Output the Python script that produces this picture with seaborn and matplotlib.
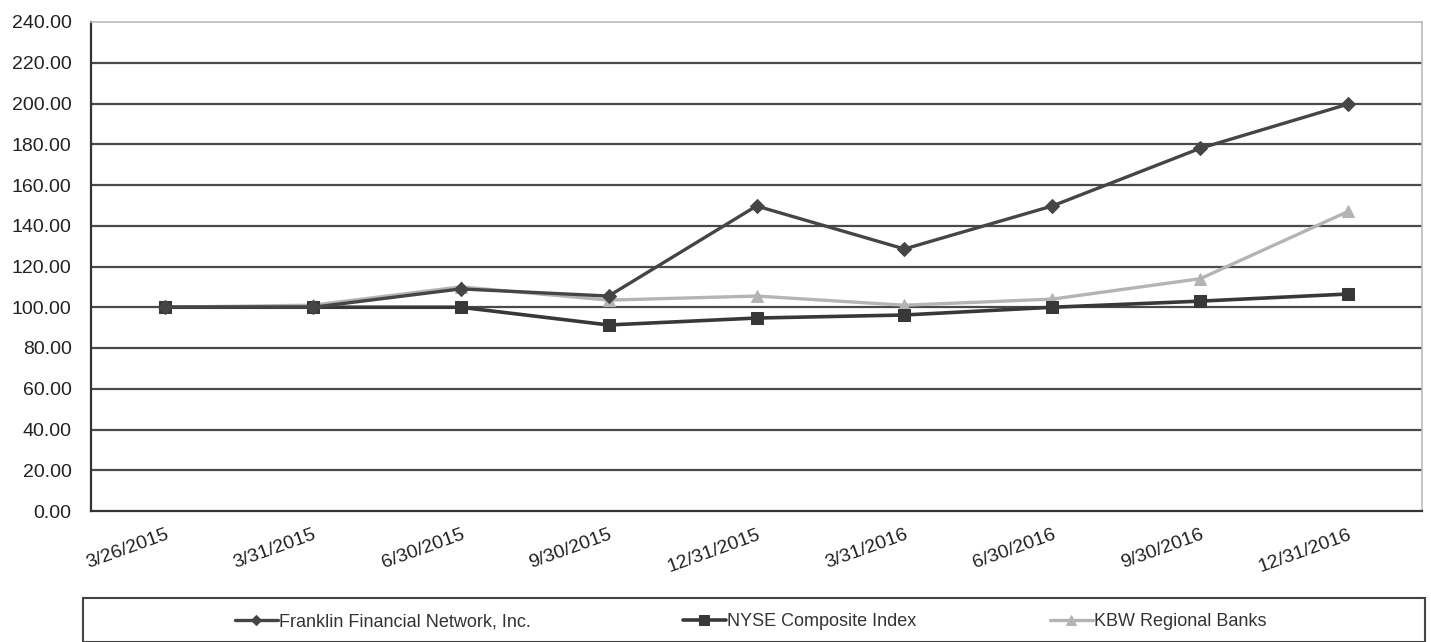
import matplotlib
matplotlib.use("Agg")
import matplotlib.pyplot as plt
import seaborn as sns
import pandas as pd
from matplotlib.patches import Rectangle

dates = ["3/26/2015", "3/31/2015", "6/30/2015", "9/30/2015", "12/31/2015",
         "3/31/2016", "6/30/2016", "9/30/2016", "12/31/2016"]
franklin = [100.0, 100.0, 109.0, 105.5, 149.7, 128.6, 149.7, 178.0, 199.7]
nyse = [100.0, 100.0, 100.0, 91.3, 94.7, 96.2, 100.0, 103.0, 106.5]
kbw = [100.0, 101.0, 110.0, 103.5, 105.5, 101.0, 104.0, 114.0, 147.0]
series_names = ["Franklin Financial Network, Inc.", "NYSE Composite Index", "KBW Regional Banks"]
y_ticks = list(range(0, 241, 20))

sns.set_style("white")
plt.rcParams["font.family"] = ["Liberation Sans", "DejaVu Sans"]

fig = plt.figure(figsize=(14.31, 6.42), dpi=100)
ax = fig.add_axes([91/1431, 1 - 511/642, (1422-91)/1431, (511-22)/642])

x_idx = list(range(len(dates)))
styles = [
    (franklin, series_names[0], "#454545", "D", 7, 2.4, 3),
    (nyse, series_names[1], "#383838", "s", 9, 2.6, 2),
    (kbw, series_names[2], "#b4b4b4", "^", 9, 2.4, 1),
]
for vals, name, col, mk, ms, lw, z in styles:
    df = pd.DataFrame({"x": x_idx, "y": vals})
    sns.lineplot(data=df, x="x", y="y", ax=ax, color=col, marker=mk,
                 markersize=ms, linewidth=lw, label=name, zorder=z,
                 markeredgecolor=col, sort=False)

ax.set_xlim(-0.5, len(dates) - 0.5)
ax.set_ylim(0, 240)
ax.set_yticks(y_ticks)
ax.set_yticklabels([f"{v:.2f}" for v in y_ticks], fontsize=14)
ax.set_xticks(x_idx)
ax.set_xticklabels(dates, rotation=20, ha="right", rotation_mode="anchor", fontsize=14)
ax.set_xlabel("")
ax.set_ylabel("")
for v in y_ticks[1:-1]:
    ax.axhline(v, color="#4a4a4a", linewidth=1.6, zorder=0.5)
ax.tick_params(axis="y", direction="inout", length=8, width=1.2, color="#333333", pad=10, labelcolor="#222222")
ax.tick_params(axis="x", direction="out", length=5, width=1.2, color="#333333", pad=6, labelcolor="#222222")
for s in ["left", "bottom"]:
    ax.spines[s].set_color("#333333")
    ax.spines[s].set_linewidth(1.6)
for s in ["top", "right"]:
    ax.spines[s].set_color("#bbbbbb")
    ax.spines[s].set_linewidth(1.2)

handles, labels = ax.get_legend_handles_labels()
ax.get_legend().remove()
fig.patches.append(Rectangle((83/1431, 0), (1425-83)/1431, 1 - 598/642,
                             transform=fig.transFigure, fill=False,
                             edgecolor="#444444", linewidth=1.5))
legend_x = [222, 670, 1037]
for h, lab, lx in zip(handles, labels, legend_x):
    fig.legend([h], [lab], loc="center left", bbox_to_anchor=(lx/1431, 1 - 622/642),
               frameon=False, fontsize=13, handlelength=2.4,
               handletextpad=0.05, markerscale=0.8, borderpad=0.2,
               labelcolor="#333333")

fig.savefig("out.png", dpi=100)
